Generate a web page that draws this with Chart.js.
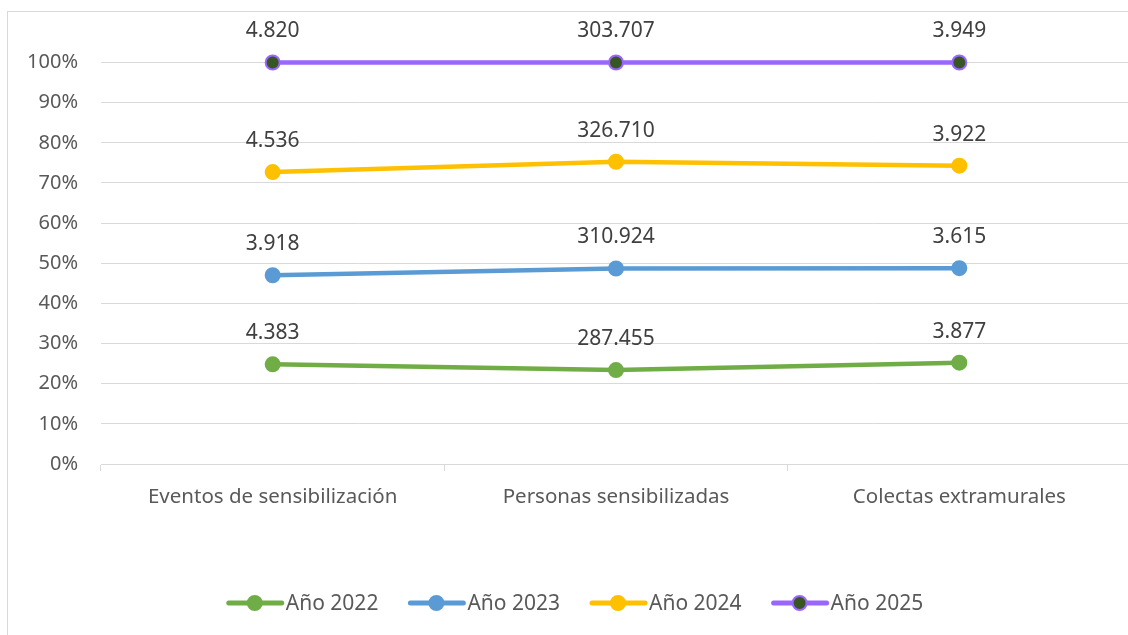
<!DOCTYPE html>
<html>
<head>
<meta charset="utf-8">
<script src="https://cdn.jsdelivr.net/npm/chart.js@4"></script>
<style>
    body { margin: 0; background: #fff; overflow: hidden; width: 1128px; height: 635px; position: relative; }
    #frame { position: absolute; left: 7px; top: 11px; width: 1140px; height: 640px; border: 1px solid #d9d9d9; }
    #wrap { position: absolute; left: 0; top: 0; }
</style>
</head>
<body>
<div id="frame"></div>
<div id="wrap"><canvas id="chart" width="1140" height="635"></canvas></div>
<script>
const categories = ['Eventos de sensibilización', 'Personas sensibilizadas', 'Colectas extramurales'];
const seriesNames = ['Año 2022', 'Año 2023', 'Año 2024', 'Año 2025'];
const values2022 = [4383, 287455, 3877];
const values2023 = [3918, 310924, 3615];
const values2024 = [4536, 326710, 3922];
const values2025 = [4820, 303707, 3949];
const yTicks = [0, 10, 20, 30, 40, 50, 60, 70, 80, 90, 100];

const lineColors = ['#70AD47', '#5B9BD5', '#FFC000', '#9966FF'];
const pointFills = ['#70AD47', '#5B9BD5', '#FFC000', '#375623'];
const allValues = [values2022, values2023, values2024, values2025];

const FONT = '"Noto Sans", sans-serif';

// share of each year within a category, stacked by the y scale
const totals = categories.map((c, i) => allValues.reduce((s, arr) => s + arr[i], 0));

const datasets = allValues.map((arr, k) => ({
    label: seriesNames[k],
    data: arr.map((v, i) => v / totals[i] * 100),
    raw: arr,
    borderColor: lineColors[k],
    backgroundColor: pointFills[k],
    pointBackgroundColor: pointFills[k],
    pointBorderColor: lineColors[k],
    pointBorderWidth: 2,
    pointRadius: 7,
    borderWidth: 4.5,
    fill: false,
    clip: false,
    tension: 0
}));

function formatNumber(n) {
    return String(n).replace(/\B(?=(\d{3})+(?!\d))/g, '.');
}

const dataLabels = {
    id: 'dataLabels',
    afterDatasetsDraw(chart) {
        const ctx = chart.ctx;
        ctx.save();
        ctx.font = '21px ' + FONT;
        ctx.fillStyle = '#404040';
        ctx.textAlign = 'center';
        ctx.textBaseline = 'middle';
        chart.data.datasets.forEach((ds, k) => {
            chart.getDatasetMeta(k).data.forEach((pt, i) => {
                ctx.fillText(formatNumber(ds.raw[i]), pt.x, pt.y - 31);
            });
        });
        ctx.restore();
    }
};

const lineLegend = {
    id: 'lineLegend',
    afterDraw(chart) {
        const ctx = chart.ctx;
        const y = 603;
        ctx.save();
        ctx.font = '21px ' + FONT;
        ctx.textBaseline = 'middle';
        const items = chart.data.datasets.map(ds => ({ ds, w: 57 + 2 + ctx.measureText(ds.label).width }));
        const gap = 30;
        const total = items.reduce((s, it) => s + it.w, 0) + gap * (items.length - 1);
        let x = 575 - total / 2;
        items.forEach(({ ds, w }) => {
            ctx.strokeStyle = ds.borderColor;
            ctx.lineWidth = 5;
            ctx.lineCap = 'round';
            ctx.beginPath();
            ctx.moveTo(x + 2, y);
            ctx.lineTo(x + 55, y);
            ctx.stroke();
            ctx.beginPath();
            ctx.arc(x + 28, y, 7, 0, Math.PI * 2);
            ctx.fillStyle = ds.pointBackgroundColor;
            ctx.fill();
            ctx.lineWidth = 2;
            ctx.strokeStyle = ds.pointBorderColor;
            ctx.stroke();
            ctx.fillStyle = '#595959';
            ctx.textAlign = 'left';
            ctx.fillText(ds.label, x + 59, y + 1);
            x += w + gap;
        });
        ctx.restore();
    }
};

new Chart(document.getElementById('chart'), {
    type: 'line',
    data: { labels: categories, datasets: datasets },
    options: {
        responsive: false,
        animation: false,
        layout: { padding: { top: 62.5, right: 2, left: 0, bottom: 0 } },
        plugins: {
            legend: { display: false },
            tooltip: { enabled: false }
        },
        scales: {
            x: {
                offset: true,
                grid: { offset: true, drawOnChartArea: false, drawTicks: true, tickLength: 7, color: '#d9d9d9' },
                border: { display: true, color: '#d9d9d9', width: 1 },
                ticks: { color: '#595959', font: { family: FONT, size: 20.5 }, padding: 14, maxRotation: 0 },
                afterFit(scale) { scale.height = 171; }
            },
            y: {
                stacked: true,
                min: 0,
                max: 100,
                afterBuildTicks(scale) { scale.ticks = yTicks.map(v => ({ value: v })); },
                grid: { color: '#d9d9d9', drawTicks: false, lineWidth: 1 },
                border: { display: false },
                ticks: {
                    color: '#595959',
                    font: { family: FONT, size: 20 },
                    padding: 23,
                    callback: v => v + '%'
                },
                afterFit(scale) { scale.width = 101; }
            }
        }
    },
    plugins: [dataLabels, lineLegend]
});
</script>
</body>
</html>
